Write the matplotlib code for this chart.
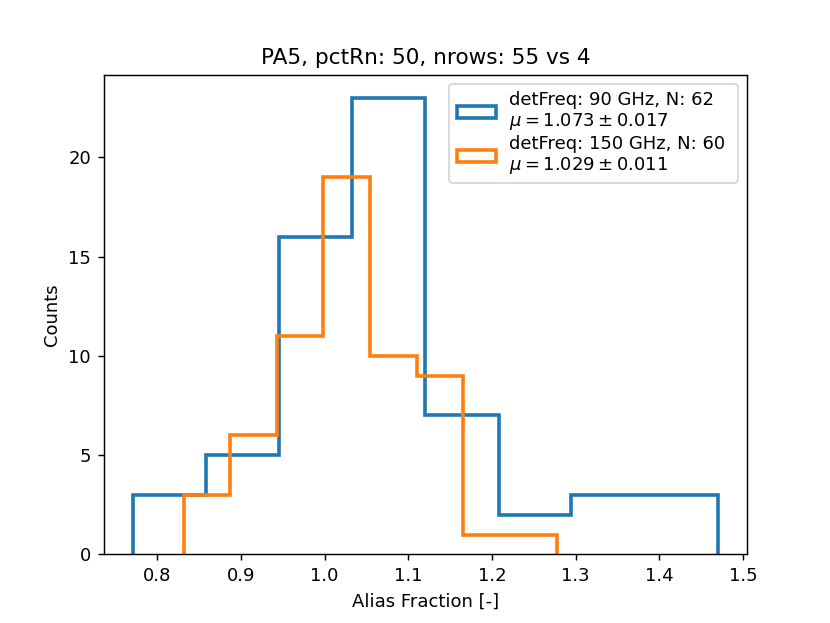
import numpy as np
import matplotlib
matplotlib.use("Agg")
import matplotlib.pyplot as plt

# Blue: 90 GHz
edges_90 = [0.771, 0.858, 0.946, 1.033, 1.120, 1.208, 1.295, 1.383, 1.470]
counts_90 = [3, 5, 16, 23, 7, 2, 3, 3]
label_90 = "detFreq: 90 GHz, N: 62\n$\\mu = 1.073 \\pm 0.017$"

# Orange: 150 GHz
edges_150 = [0.8314, 0.8872, 0.9429, 0.9987, 1.0544, 1.1102, 1.1659, 1.2217, 1.2774]
counts_150 = [3, 6, 11, 19, 10, 9, 1, 1]
label_150 = "detFreq: 150 GHz, N: 60 \n$\\mu = 1.029 \\pm 0.011$"

fig, ax = plt.subplots(figsize=(830 / 130, 623 / 130), dpi=130)

ax.hist(edges_90[:-1], bins=edges_90, weights=counts_90, histtype="step",
        linewidth=2, color="#1f77b4", label=label_90)
ax.hist(edges_150[:-1], bins=edges_150, weights=counts_150, histtype="step",
        linewidth=2, color="#ff7f0e", label=label_150)

ax.set_title("PA5, pctRn: 50, nrows: 55 vs 4")
ax.set_xlabel("Alias Fraction [-]")
ax.set_ylabel("Counts")
leg = ax.legend(loc="upper right", labelspacing=0.2, handlelength=2.2,
                handletextpad=0.7)
for t in leg.get_texts():
    t.set_linespacing(1.1)

fig.savefig("out.png", dpi=130)
